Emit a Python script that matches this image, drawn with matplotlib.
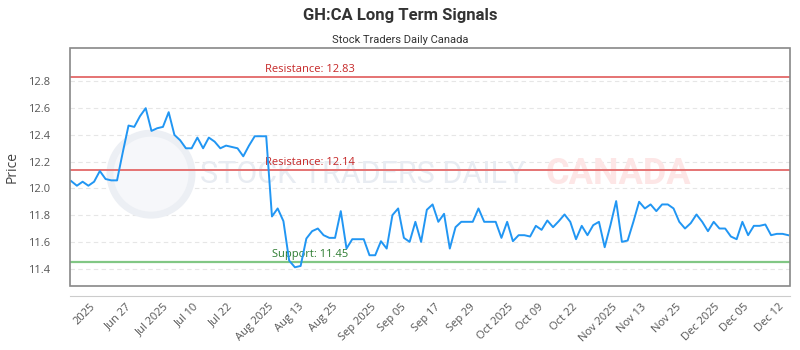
import matplotlib.pyplot as plt
import matplotlib.transforms as mtransforms
from matplotlib.patches import Rectangle, Ellipse
import numpy as np

# closing prices, one per trading day
price = [12.055, 12.02, 12.05, 12.02, 12.05, 12.13, 12.07, 12.06, 12.06, 12.27,
         12.47, 12.46, 12.54, 12.60, 12.43, 12.45, 12.46, 12.57, 12.40, 12.36,
         12.30, 12.30, 12.38, 12.30, 12.38, 12.35, 12.30, 12.32, 12.31, 12.30,
         12.24, 12.32, 12.39, 12.39, 12.39, 11.79, 11.85, 11.755, 11.46, 11.41,
         11.42, 11.625, 11.68, 11.70, 11.65, 11.63, 11.63, 11.83, 11.55, 11.62,
         11.62, 11.62, 11.50, 11.50, 11.605, 11.55, 11.80, 11.85, 11.63, 11.60,
         11.75, 11.60, 11.84, 11.88, 11.75, 11.81, 11.55, 11.71, 11.75, 11.75,
         11.75, 11.85, 11.75, 11.75, 11.75, 11.63, 11.75, 11.605, 11.65, 11.65,
         11.64, 11.72, 11.69, 11.76, 11.71, 11.755, 11.805, 11.75, 11.62, 11.72,
         11.65, 11.725, 11.75, 11.56, 11.725, 11.905, 11.60, 11.61, 11.75, 11.90,
         11.85, 11.88, 11.83, 11.88, 11.88, 11.85, 11.75, 11.70, 11.74, 11.805,
         11.75, 11.68, 11.75, 11.70, 11.70, 11.64, 11.62, 11.75, 11.65, 11.72,
         11.72, 11.73, 11.65, 11.66, 11.66, 11.65]

tick_labels = ['2025', 'Jun 27', 'Jul 2025', 'Jul 10', 'Jul 22', 'Aug 2025',
               'Aug 13', 'Aug 25', 'Sep 2025', 'Sep 05', 'Sep 17', 'Sep 29',
               'Oct 2025', 'Oct 09', 'Oct 22', 'Nov 2025', 'Nov 13', 'Nov 25',
               'Dec 2025', 'Dec 05', 'Dec 12']

resistance_hi = 12.83
resistance_lo = 12.14
support = 11.45

plt.rcParams['font.family'] = ['Open Sans', 'DejaVu Sans']
narrow = ['Roboto', 'DejaVu Sans']

fig = plt.figure(figsize=(8, 3.5), dpi=100)
ax = fig.add_axes([70/800, 1 - 286/350, 720/800, (286 - 48)/350])

x = np.arange(len(price))
ax.plot(x, price, color='#2196f3', lw=1.4, zorder=5)

ax.axhline(resistance_hi, color='#e57373', lw=1.4, zorder=3)
ax.axhline(resistance_lo, color='#e57373', lw=1.4, zorder=3)
ax.axhline(support, color='#81c784', lw=1.6, zorder=3)

trans = mtransforms.blended_transform_factory(ax.transAxes, ax.transData)
ax.text(0.333, resistance_hi + 0.015, 'Resistance: %.2f' % resistance_hi,
        color='#c62828', fontsize=8, ha='center', va='bottom', transform=trans)
ax.text(0.333, resistance_lo + 0.015, 'Resistance: %.2f' % resistance_lo,
        color='#c62828', fontsize=8, ha='center', va='bottom', transform=trans)
ax.text(0.333, support + 0.015, 'Support: %.2f' % support,
        color='#2e7d32', fontsize=8, ha='center', va='bottom', transform=trans)

# faint watermark
ax.text(0.181, 0.47, 'STOCK TRADERS DAILY', transform=ax.transAxes, fontsize=22,
        family=narrow, color='#e8ecf2', ha='left', va='center', zorder=1)
ax.text(0.66, 0.47, 'CANADA', transform=ax.transAxes, fontsize=26,
        family=narrow, fontweight='bold', color='#fde6e6', ha='left',
        va='center', zorder=1)
ax.add_patch(Ellipse((0.1125, 0.47), 82/720, 82/238, transform=ax.transAxes,
                     fc='#f6f7fa', ec='#eceff4', lw=5, zorder=1))

ax.set_xlim(-0.2, len(price) - 0.7)
ax.set_ylim(11.27, 13.05)
yt = np.arange(11.4, 12.81, 0.2)
ax.set_yticks(yt)
ax.set_yticklabels(['%.1f' % v for v in yt])
ax.grid(axis='y', color='#e6e6e6', ls=(0, (4, 3)), lw=0.8)
ax.set_axisbelow(True)

ax.set_xticks(np.linspace(2.3, 121.7, len(tick_labels)))
ax.set_xticklabels(tick_labels)
ax.tick_params(axis='x', length=0, pad=4, labelsize=8, labelcolor='#555555',
               labelrotation=45)
plt.setp(ax.get_xticklabels(), ha='right', rotation_mode='anchor')
ax.tick_params(axis='y', length=0, pad=14, labelsize=8, labelcolor='#555555')

for s in ['top', 'left', 'right']:
    ax.spines[s].set_visible(False)
ax.spines['bottom'].set_position(('outward', 7))
ax.spines['bottom'].set_color('#cccccc')
ax.add_patch(Rectangle((0, 0), 1, 1, transform=ax.transAxes, fill=False,
                       ec='#888888', lw=1.2, clip_on=False, zorder=6))

ax.set_ylabel('Price', fontsize=10, color='#444444', labelpad=6)

fig.text(0.5, 0.955, 'GH:CA Long Term Signals', ha='center', va='center',
         fontsize=12, fontweight='bold', color='#333333', family=narrow)
fig.text(0.5, 0.885, 'Stock Traders Daily Canada', ha='center', va='center',
         fontsize=8, color='#333333', family=narrow)

fig.savefig('out.png', dpi=100)
